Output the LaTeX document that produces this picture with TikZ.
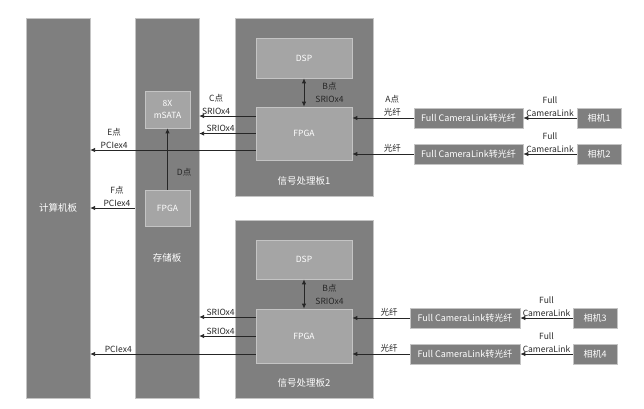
\documentclass[tikz,border=0pt]{standalone}
\usepackage{fontspec}
\setmainfont{Noto Sans CJK SC}
\usetikzlibrary{arrows.meta, calc}
\definecolor{boardgray}{HTML}{7F7F7F}
\definecolor{chipgray}{HTML}{A5A5A5}
\definecolor{chipedge}{HTML}{C4C4C4}
\definecolor{txtgray}{HTML}{262626}

\begin{document}
\begin{tikzpicture}[x=1pt, y=-1pt, >={Latex[length=5pt, width=4.5pt]},
  board/.style={fill=boardgray, draw=chipedge, line width=0.3pt, inner sep=0pt},
  chip/.style={fill=chipgray, draw=chipedge, line width=0.7pt, inner sep=0pt,
    text=white, align=center, font=\fontsize{8.5}{12}\selectfont},
  unit/.style={fill=boardgray, draw=chipedge, line width=0.5pt, inner sep=0pt,
    text=white, minimum height=20pt, font=\fontsize{9}{12}\selectfont},
  title/.style={text=white, font=\fontsize{9.5}{12}\selectfont},
  lbl/.style={text=txtgray, align=center, inner sep=1pt, font=\fontsize{8.5}{13}\selectfont},
  arr/.style={->, line width=0.9pt, draw=txtgray}]
  \useasboundingbox (0,0) rectangle (644,408);

  % boards
  \node[board, minimum width=64pt, minimum height=380pt] (comp) at (58,208) {};
  \node[board, minimum width=64pt, minimum height=380pt] (store) at (167,208) {};
  \node[board, minimum width=138pt, minimum height=178pt] (sigA) at (304,107) {};
  \node[board, minimum width=138pt, minimum height=178pt] (sigB) at (304,309) {};

  \node[title] (compT) at (58,208) {计算机板};
  \node[title] (storeT) at (167,258) {存储板};
  \node[title] (sigAT) at (304,181) {信号处理板1};
  \node[title] (sigBT) at (304,383) {信号处理板2};

  % chips
  \node[chip, minimum width=96pt, minimum height=40pt] (dspA) at (304,58) {DSP};
  \node[chip, minimum width=96pt, minimum height=53pt] (fpgaA) at (304,133.5) {FPGA};
  \node[chip, minimum width=96pt, minimum height=39pt] (dspB) at (304,259.5) {DSP};
  \node[chip, minimum width=96pt, minimum height=54pt] (fpgaB) at (304,336) {FPGA};
  \node[chip, minimum width=45pt, minimum height=37pt] (msata) at (167.5,109.5) {8X\\mSATA};
  \node[chip, minimum width=45pt, minimum height=36pt] (sfpga) at (167.5,208) {FPGA};

  % converters and cameras
  \node[unit, minimum width=109pt] (convA) at (468.5,118) {Full CameraLink转光纤};
  \node[unit, minimum width=109pt] (convB) at (468.5,154) {Full CameraLink转光纤};
  \node[unit, minimum width=110pt] (convC) at (465,318) {Full CameraLink转光纤};
  \node[unit, minimum width=110pt] (convD) at (465,354) {Full CameraLink转光纤};
  \node[unit, minimum width=44pt] (camA) at (599,118) {相机1};
  \node[unit, minimum width=44pt] (camB) at (599,154) {相机2};
  \node[unit, minimum width=44pt] (camC) at (595,318) {相机3};
  \node[unit, minimum width=44pt] (camD) at (595,354) {相机4};

  % upper board links
  \draw[arr, <->] (dspA.south) -- (fpgaA.north)
    node[midway, right=10pt, lbl] (bA) {B点\\SRIOx4};
  \draw[arr] ([yshift=17.5pt]fpgaA.west) coordinate (c1) -- (c1 -| store.east)
    node[pos=0.7, above, lbl] (cA) {C点\\SRIOx4};
  \draw[arr] (fpgaA.west) -- (fpgaA.west -| store.east)
    node[pos=0.62, above, lbl] (cB) {SRIOx4};
  \draw[arr] ([yshift=-16.5pt]fpgaA.west) coordinate (e1) -- (e1 -| comp.east)
    node[pos=0.855, above, lbl] (eA) {E点\\PCIex4};
  \draw[arr] (sfpga.north) -- (msata.south)
    node[pos=0.29, right=8pt, lbl] (dA) {D点};
  \draw[arr] (store.west) -- (comp.east)
    node[pos=0.4, above, lbl] (fA) {F点\\PCIex4};

  % lower board links
  \draw[arr, <->] (dspB.south) -- (fpgaB.north)
    node[midway, right=10pt, lbl] (bB) {B点\\SRIOx4};
  \draw[arr] ([yshift=19pt]fpgaB.west) coordinate (c2) -- (c2 -| store.east)
    node[pos=0.62, above, lbl, inner sep=0.5pt] (cC) {SRIOx4};
  \draw[arr] (fpgaB.west) -- (fpgaB.west -| store.east)
    node[pos=0.62, above, lbl, inner sep=0.5pt] (cD) {SRIOx4};
  \draw[arr] ([yshift=-18pt]fpgaB.west) coordinate (e2) -- (e2 -| comp.east)
    node[pos=0.83, above, lbl] (eB) {PCIex4};

  % camera chains
  \draw[arr] (camA.west) -- (convA.east) node[midway, above, lbl] (fl1) {Full\\CameraLink};
  \draw[arr] (camB.west) -- (convB.east) node[midway, above, lbl] (fl2) {Full\\CameraLink};
  \draw[arr] (camC.west) -- (convC.east) node[midway, above, lbl] (fl3) {Full\\CameraLink};
  \draw[arr] (camD.west) -- (convD.east) node[midway, above, lbl] (fl4) {Full\\CameraLink};
  \draw[arr] (convA.west) -- (convA.west -| fpgaA.east)
    node[pos=0.35, above, lbl] (gA) {A点\\光纤};
  \draw[arr] (convB.west) -- (convB.west -| fpgaA.east)
    node[pos=0.35, above, lbl] (gB) {光纤};
  \draw[arr] (convC.west) -- (convC.west -| fpgaB.east)
    node[pos=0.36, above, lbl] (gC) {光纤};
  \draw[arr] (convD.west) -- (convD.west -| fpgaB.east)
    node[pos=0.36, above, lbl] (gD) {光纤};
\end{tikzpicture}
\end{document}
